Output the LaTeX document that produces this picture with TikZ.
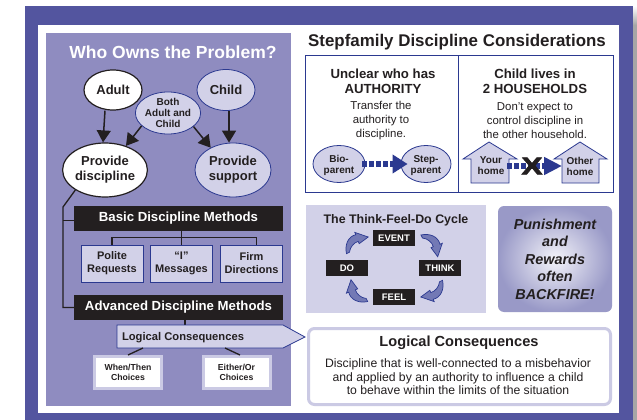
\documentclass[tikz,border=0pt]{standalone}
\usepackage{fontspec}
\setmainfont{Liberation Sans}
\newfontface\heavyface[FakeBold=2.5]{Liberation Sans Bold}
\usepackage{tikz}
\usetikzlibrary{arrows.meta,shapes.geometric}
\definecolor{frameblue}{HTML}{53559F}
\definecolor{panelpurple}{HTML}{8F8CC0}
\definecolor{lightpurple}{HTML}{D2D1E8}
\definecolor{borderpurple}{HTML}{CBCAE4}
\definecolor{navy}{HTML}{2B3990}
\definecolor{ink}{HTML}{231F20}
\definecolor{arrowblue}{HTML}{7379B5}
\newcommand{\cyclearrow}[2]{
\draw [navy,fill=arrowblue,line width=0.7pt,shift={(#1)},rotate=#2] (-10.7,10.5) .. controls (-2,12.5) and (6.5,9) .. (8.3,1.2) -- (10.6,2.2) -- (6,-11.2) -- (-0.7,-2.2) -- (1.6,-1.2) .. controls (0.5,3) and (-4,7) .. (-9.2,7.5) -- cycle;
}
\begin{document}
\begin{tikzpicture}[x=1pt,y=1pt,text=ink]
\tikzstyle{every node}+=[inner sep=0pt,align=center]
\tikzstyle{whiteoval}=[ellipse,draw=ink,fill=white,line width=1.2pt,font=\bfseries\fontsize{13}{15}\selectfont]
\tikzstyle{paleoval}=[ellipse,draw=navy,fill=lightpurple,line width=0.8pt,font=\bfseries\fontsize{13}{15}\selectfont]
\tikzstyle{bigarrow}=[ink,line width=1.5pt,-{Triangle[length=12pt,width=14pt]}]
\tikzstyle{treeline}=[ink,line width=1.3pt]
\tikzstyle{blackbar}=[fill=ink,text=white,minimum width=209pt,minimum height=25pt,font=\bfseries\fontsize{13.2}{15}\selectfont]
\tikzstyle{methodbox}=[draw=navy,fill=lightpurple,line width=0.8pt,minimum width=62pt,minimum height=37pt,font=\bfseries\fontsize{11}{13}\selectfont]
\tikzstyle{choicebox}=[draw=borderpurple,fill=white,line width=3pt,minimum width=67pt,minimum height=32pt,font=\bfseries\fontsize{8.7}{10}\selectfont]
\tikzstyle{headtext}=[font=\bfseries\fontsize{13.2}{15}\selectfont]
\tikzstyle{bodytext}=[font=\fontsize{11.4}{14}\selectfont]
\tikzstyle{smalllabel}=[font=\bfseries\fontsize{10}{11}\selectfont]
\tikzstyle{dotarrow}=[navy,line width=6.5pt,dash pattern=on 5pt off 2pt]
\tikzstyle{homeshape}=[navy,fill=lightpurple,line width=0.8pt]
\tikzstyle{cyclebox}=[fill=ink,text=white,minimum width=42pt,minimum height=16pt,font=\bfseries\fontsize{9.5}{11}\selectfont]
\useasboundingbox (0,0) rectangle (637,-420);
\fill [white] (0,0) rectangle (637,-420);
\fill [black!35] (633,-25) rectangle (637,-420);
\shade [top color=white,bottom color=black!35] (633,-6) rectangle (637,-25);
\fill [frameblue] (25,-6) rectangle (633,-420);
\fill [white] (38,-25) rectangle (619,-413);
\fill [panelpurple] (46,-33) rectangle (291,-406);
\node (whotitle) at (173,-52) [text=white,font=\bfseries\fontsize{17.5}{20}\selectfont] {Who Owns the Problem?};
\node (adult) at (113,-90) [whiteoval,minimum width=58pt,minimum height=40pt] {Adult};
\node (child) at (226,-90) [paleoval,minimum width=58pt,minimum height=41pt] {Child};
\node (both) at (168,-113) [paleoval,minimum width=58pt,minimum height=42pt,font=\bfseries\fontsize{10}{10.8}\selectfont] {Both\\Adult and\\Child};
\node (discipline) at (105,-170) [whiteoval,minimum width=76pt,minimum height=54pt] {Provide\\discipline};
\node (support) at (233,-170) [paleoval,minimum width=76pt,minimum height=54pt] {Provide\\support};
\draw [bigarrow] ([xshift=-8pt]adult.south) -- ([xshift=-2pt]discipline.north);
\draw [bigarrow] (both.206) -- (discipline.49);
\draw [bigarrow] (both.-28) -- (support.135);
\draw [bigarrow] ([xshift=3pt]child.south) -- ([xshift=-4pt]support.north);
\node (basic) at (178.5,-218.5) [blackbar] {Basic Discipline Methods};
\node (advanced) at (178.5,-307.5) [blackbar] {Advanced Discipline Methods};
\coordinate (bend) at (63,-207);
\draw [treeline] (discipline.214) -- (bend) |- (advanced.west);
\draw [treeline] (bend |- 0,-220.7) -- (basic.west |- 0,-220.7);
\node (requests) at (112,-263.5) [methodbox] {Polite\\Requests};
\node (messages) at (181.5,-263.5) [methodbox] {“I”\\Messages};
\node (directions) at (251.5,-263.5) [methodbox] {Firm\\Directions};
\draw [treeline] (requests.north) |- ([xshift=5pt,yshift=7pt]directions.north) -- ([xshift=5pt]directions.north);
\draw [treeline] (messages.north) -- (messages.north |- basic.south);
\coordinate (lctop) at (185,-325);
\coordinate (lcleft) at (143,-348);
\coordinate (lcright) at (225,-348);
\draw [treeline] (lctop |- advanced.south) -- (lctop);
\draw [navy,fill=lightpurple,line width=0.8pt] (117,-325) -- (283,-325) -- (305,-337) -- (283,-348) -- (117,-348) -- cycle;
\node (logical) at (183,-338) [font=\bfseries\fontsize{11.2}{13}\selectfont] {Logical Consequences};
\node (whenthen) at (128,-372.5) [choicebox] {When/Then\\Choices};
\node (eitheror) at (236.5,-372.5) [choicebox] {Either/Or\\Choices};
\draw [treeline] (lcleft) -- (whenthen.north);
\draw [treeline] (lcright) -- ([xshift=3.5pt]eitheror.north);
\node (steptitle) at (457,-42) [font=\bfseries\fontsize{16.9}{19}\selectfont] {Stepfamily Discipline Considerations};
\draw [navy,line width=1pt] (305,-56) rectangle (613,-192);
\draw [navy,line width=1pt] (458,-56) -- (458,-192);
\node (authority) at (383,-81.5) [headtext] {Unclear who has\\AUTHORITY};
\node (transfer) at (381,-120.5) [bodytext] {Transfer the\\authority to\\discipline.};
\node (bio) at (339,-164) [ellipse,draw=navy,fill=lightpurple,line width=0.8pt,minimum width=52pt,minimum height=37pt,smalllabel] {\rule{0pt}{11pt}Bio-\\parent};
\node (stepparent) at (426,-164) [ellipse,draw=navy,fill=lightpurple,line width=0.8pt,minimum width=50pt,minimum height=37pt,smalllabel] {\rule{0pt}{11pt}Step-\\parent};
\draw [dotarrow,-{Triangle[length=15pt,width=18pt]}] ([xshift=-3pt]bio.east) -- ([xshift=7pt]stepparent.west);
\node (households) at (535,-81.5) [headtext] {Child lives in\\2 HOUSEHOLDS};
\node (expect) at (535,-120.5) [bodytext] {Don’t expect to\\control discipline in\\the other household.};
\draw [homeshape] (489,-142) -- (463,-159) -- (471,-159) -- (471,-183) -- (509,-183) -- (509,-159) -- (517,-159) -- cycle;
\draw [homeshape] (580,-142) -- (554,-159) -- (562,-159) -- (562,-183) -- (599,-183) -- (599,-159) -- (607,-159) -- cycle;
\node (yourhome) at (491,-166) [smalllabel] {Your\\home};
\node (otherhome) at (580,-166) [smalllabel] {Other\\home};
\draw [dotarrow,-{Triangle[length=18pt,width=17pt]}] ([xshift=16pt]yourhome.center) -- ([xshift=-18pt]otherhome.center);
\node (blockx) at (532,-166) [xscale=1.3,transform shape,font=\heavyface\fontsize{24}{24}\selectfont] {X};
\fill [lightpurple] (306,-205) rectangle (486,-313);
\node (cycletitle) at (396,-220) [font=\bfseries\fontsize{12.4}{14}\selectfont] {The Think-Feel-Do Cycle};
\node (event) at (394,-238) [cyclebox] {EVENT};
\node (do) at (347,-268) [cyclebox] {DO};
\node (think) at (440,-268) [cyclebox] {THINK};
\node (feel) at (394,-297) [cyclebox] {FEEL};
\cyclearrow{431.7,-245.5}{0}
\cyclearrow{432,-291}{-90}
\cyclearrow{357,-291}{-180}
\cyclearrow{357,-243}{90}
\node (backfire) at (555,-259) [rounded corners=6pt,inner color=lightpurple!25!white,outer color=lightpurple!55!frameblue,minimum width=114pt,minimum height=106pt,font=\bfseries\itshape\fontsize{14.4}{17.5}\selectfont] {Punishment\\and\\Rewards\\often\\BACKFIRE!};
\node (lcbox) at (459.5,-366.5) [draw=borderpurple,fill=white,line width=3pt,rounded corners=6pt,minimum width=302pt,minimum height=76pt] {};
\node (lctitle) at (459,-342.5) [font=\bfseries\fontsize{14.6}{17}\selectfont] {Logical Consequences};
\node (lcdefine) at (458,-377) [font=\fontsize{12.2}{13.5}\selectfont] {Discipline that is well-connected to a misbehavior\\and applied by an authority to influence a child\\to behave within the limits of the situation};
\end{tikzpicture}
\end{document}
